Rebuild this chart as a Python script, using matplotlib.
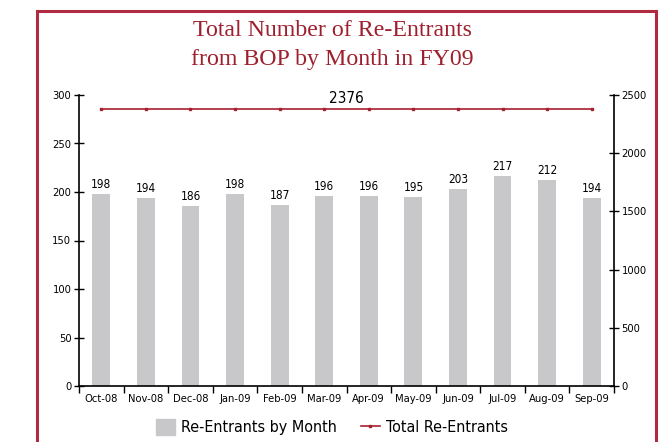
import matplotlib.pyplot as plt
from matplotlib.patches import Rectangle
from matplotlib.lines import Line2D

plt.rcParams['font.family'] = ['DejaVu Sans']
plt.rcParams['font.stretch'] = 'condensed'

months = ["Oct-08", "Nov-08", "Dec-08", "Jan-09", "Feb-09", "Mar-09",
          "Apr-09", "May-09", "Jun-09", "Jul-09", "Aug-09", "Sep-09"]
monthly = [198, 194, 186, 198, 187, 196, 196, 195, 203, 217, 212, 194]
total = 2376

red = "#a8202f"
grey = "#c8c8ca"

fig = plt.figure(figsize=(6.64, 4.42), dpi=100)
W, H = 664, 442

# border frame
fig.patches.append(Rectangle((37 / W, -0.05), 619 / W, 1.05 - 11 / H,
                             transform=fig.transFigure, fill=False,
                             edgecolor="#b02a40", lw=2.2, zorder=0))

ax = fig.add_axes([79 / W, 1 - 386 / H, (614 - 79) / W, (386 - 95) / H])
x = list(range(len(months)))
ax.bar(x, monthly, width=0.4, color=grey, zorder=2)
for xi, v in zip(x, monthly):
    ax.text(xi, v + 3, str(v), ha="center", va="bottom", fontsize=8.5)

ax.set_xlim(-0.5, len(months) - 0.5)
ax.set_ylim(0, 300)
ax.set_yticks(range(0, 301, 50))
ax.set_xticks(x)
ax.set_xticklabels(months, fontsize=8)
ax.set_xticks([i - 0.5 for i in range(len(months) + 1)], minor=True)
ax.tick_params(axis="x", which="major", length=0, pad=6)
ax.tick_params(axis="x", which="minor", length=5, direction="out", width=1)
ax.tick_params(axis="y", direction="inout", length=7, width=1, labelsize=8, pad=2)
for s in ["top", "right"]:
    ax.spines[s].set_visible(False)
ax.spines["left"].set_linewidth(1.2)
ax.spines["bottom"].set_linewidth(1.2)

ax2 = ax.twinx()
ax2.plot(x, [total] * len(months), color=red, lw=1.2, marker="s", ms=2)
ax2.text(5.5, total + 30, str(total), ha="center", va="bottom", fontsize=11)
ax2.set_ylim(0, 2500)
ax2.set_yticks(range(0, 2501, 500))
ax2.tick_params(axis="y", direction="inout", length=7, width=1, labelsize=8, pad=2)
for s in ["top", "left", "bottom"]:
    ax2.spines[s].set_visible(False)
ax2.spines["right"].set_linewidth(1.2)

fig.text(0.5, 1 - 45 / H, "Total Number of Re-Entrants\nfrom BOP by Month in FY09",
         ha="center", va="center", fontsize=17.2, color="#9e1f2d",
         family=["Liberation Serif", "DejaVu Serif"], stretch="normal",
         linespacing=1.45)

handles = [Rectangle((0, 0), 1, 1, color=grey),
           Line2D([], [], color=red, lw=1.2, marker="s", ms=2)]
fig.legend(handles, ["Re-Entrants by Month", "Total Re-Entrants"],
           loc="center", bbox_to_anchor=(0.5, 1 - 427 / H), ncol=2,
           frameon=False, fontsize=11.5, handlelength=1.2, handleheight=1.2,
           columnspacing=1.5, handletextpad=0.4)

fig.savefig("out.png", dpi=100)
